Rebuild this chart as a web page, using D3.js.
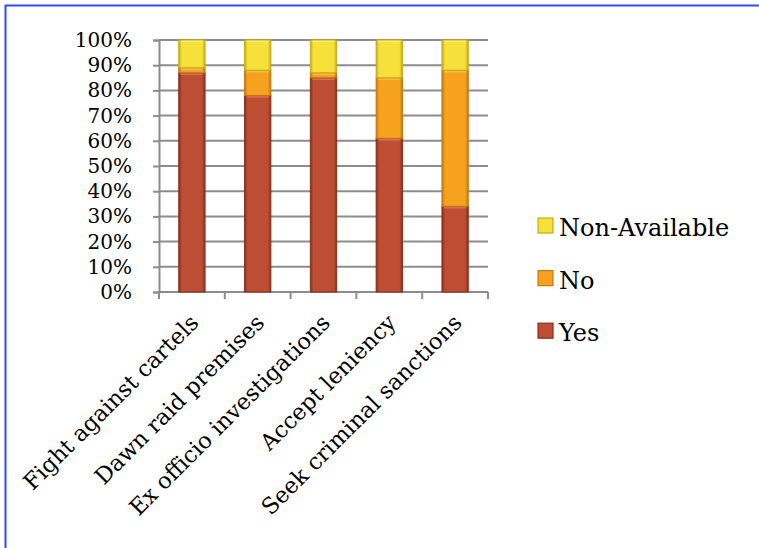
<!DOCTYPE html>
<html>
<head>
<meta charset="utf-8">
<script src="https://cdn.jsdelivr.net/npm/d3@7"></script>
<style>
  html, body { margin: 0; padding: 0; background: #fff; }
  svg { display: block; }
</style>
</head>
<body>
<svg id="chart" width="759" height="548"></svg>
<script>
const categories = ["Fight against cartels", "Dawn raid premises", "Ex officio investigations", "Accept leniency", "Seek criminal sanctions"];
const seriesNames = ["Yes", "No", "Non-Available"];
const yesValues = [87, 78, 85, 61, 34];
const noValues = [2, 10, 2, 24, 54];
const naValues = [11, 12, 13, 15, 12];
const yTicks = [0, 10, 20, 30, 40, 50, 60, 70, 80, 90, 100];

const colors = {
  "Yes": { mid: "#bd4e33", edge: "#87301c", top: "#e07a62" },
  "No": { mid: "#f7a21f", edge: "#c47810", top: "#fbc05a" },
  "Non-Available": { mid: "#f6e13a", edge: "#c2ad18", top: "#fbef8a" }
};

const svg = d3.select("#chart");
const W = 759, H = 548;
const plot = { left: 159, right: 488, top: 40, bottom: 292 };

// frame
svg.append("line").attr("x1", 5).attr("x2", W).attr("y1", 5.5).attr("y2", 5.5)
  .attr("stroke", "#2a4cff").attr("stroke-width", 2);
svg.append("line").attr("x1", 5.5).attr("x2", 5.5).attr("y1", 5).attr("y2", H)
  .attr("stroke", "#2a4cff").attr("stroke-width", 2);

const x = d3.scaleBand().domain(categories).range([plot.left, plot.right]).paddingInner(0.6).paddingOuter(0.3);
const xOuter = d3.scaleBand().domain(categories).range([plot.left, plot.right]);
const y = d3.scaleLinear().domain([0, 100]).range([plot.bottom, plot.top]);

const defs = svg.append("defs");
seriesNames.forEach((s, i) => {
  const g = defs.append("linearGradient").attr("id", "g" + i).attr("x1", 0).attr("x2", 1).attr("y1", 0).attr("y2", 0);
  g.append("stop").attr("offset", "0%").attr("stop-color", colors[s].edge);
  g.append("stop").attr("offset", "12%").attr("stop-color", colors[s].mid);
  g.append("stop").attr("offset", "88%").attr("stop-color", colors[s].mid);
  g.append("stop").attr("offset", "100%").attr("stop-color", colors[s].edge);
});

// gridlines
svg.append("g").selectAll("line").data(yTicks).join("line")
  .attr("x1", plot.left).attr("x2", plot.right)
  .attr("y1", d => y(d)).attr("y2", d => y(d))
  .attr("stroke", "#8c8c8c").attr("stroke-width", 2);

// y axis
const yAxis = d3.axisLeft(y).tickValues(yTicks).tickFormat(d => d + "%").tickSize(6).tickPadding(21);
const ya = svg.append("g").attr("transform", `translate(${plot.left},0)`).call(yAxis);
ya.select(".domain").attr("stroke", "#8c8c8c").attr("stroke-width", 2);
ya.selectAll(".tick line").attr("stroke", "#8c8c8c").attr("stroke-width", 2);
ya.selectAll(".tick text").attr("font-family", "DejaVu Serif").attr("font-size", 20).attr("fill", "#000");

// x axis (ticks at boundaries)
const boundaries = categories.map(c => xOuter(c)).concat([plot.right]);
svg.append("line").attr("x1", plot.left).attr("x2", plot.right).attr("y1", plot.bottom).attr("y2", plot.bottom)
  .attr("stroke", "#8c8c8c").attr("stroke-width", 2);
svg.append("g").selectAll("line").data(boundaries).join("line")
  .attr("x1", d => d).attr("x2", d => d).attr("y1", plot.bottom).attr("y2", plot.bottom + 7)
  .attr("stroke", "#8c8c8c").attr("stroke-width", 2);

// stacked data
const table = categories.map((c, i) => ({ cat: c, "Yes": yesValues[i], "No": noValues[i], "Non-Available": naValues[i] }));
const stack = d3.stack().keys(seriesNames)(table);

stack.forEach((layer, si) => {
  const g = svg.append("g");
  g.selectAll("rect").data(layer).join("rect")
    .attr("x", d => x(d.data.cat))
    .attr("width", x.bandwidth())
    .attr("y", d => y(d[1]))
    .attr("height", d => y(d[0]) - y(d[1]))
    .attr("fill", `url(#g${si})`)
    .attr("stroke", colors[seriesNames[si]].edge).attr("stroke-width", 1);
  g.selectAll("line").data(layer).join("line")
    .attr("x1", d => x(d.data.cat) + 2).attr("x2", d => x(d.data.cat) + x.bandwidth() - 2)
    .attr("y1", d => y(d[1]) + 1.5).attr("y2", d => y(d[1]) + 1.5)
    .attr("stroke", colors[seriesNames[si]].top).attr("stroke-width", 1.5).attr("opacity", 0.8);
});

// category labels
svg.append("g").selectAll("text").data(categories).join("text")
  .attr("transform", d => `translate(${xOuter(d) + xOuter.bandwidth() / 2 + 8},${plot.bottom + 32}) rotate(-45)`)
  .attr("text-anchor", "end")
  .attr("font-family", "DejaVu Serif").attr("font-size", 22.5).attr("fill", "#000")
  .text(d => d);

// legend
const legendItems = ["Non-Available", "No", "Yes"];
const lg = svg.append("g").selectAll("g").data(legendItems).join("g")
  .attr("transform", (d, i) => `translate(538,${218 + i * 52.6})`);
lg.append("rect").attr("width", 15).attr("height", 15)
  .attr("fill", d => colors[d].mid).attr("stroke", d => colors[d].edge).attr("stroke-width", 1.2);
lg.append("text").attr("x", 21).attr("y", 18)
  .attr("font-family", "DejaVu Serif").attr("font-size", 24).attr("fill", "#000")
  .text(d => d);
</script>
</body>
</html>
